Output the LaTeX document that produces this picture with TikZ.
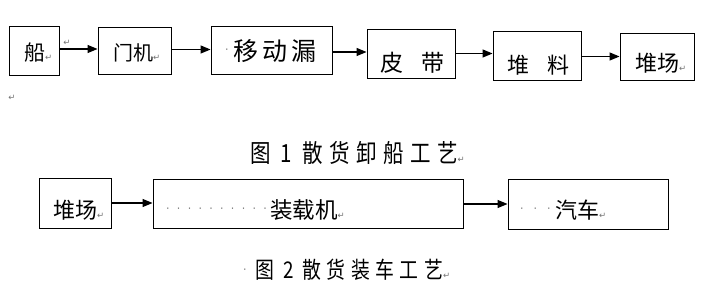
\documentclass[tikz,border=0pt]{standalone}
\usepackage{fontspec}
\setmainfont{Liberation Serif}
\newfontfamily\cjk{Noto Sans CJK SC}
\newfontfamily\capf[FakeStretch=0.82]{Noto Sans CJK SC}
\newfontfamily\djv{DejaVu Sans}
\usetikzlibrary{arrows.meta}
\newcommand\pmk{{\djv\fontsize{8.5}{8.5}\selectfont\color{black!55}↵}}
\newcommand\cdt{{\djv\fontsize{11}{11}\selectfont\color{black!55}·}}
\newcommand\cjks[1]{\cjk\fontsize{#1}{#1}\selectfont}
\begin{document}
\begin{tikzpicture}[x=1pt,y=-1pt,
  box/.style={draw, line width=0.9pt, inner sep=0pt},
  arr/.style={line width=1.2pt, -{Triangle[length=10pt,width=8pt]}},
  txt/.style={inner sep=0pt, anchor=west},
  pmark/.style={inner sep=0pt}]
\useasboundingbox (0,0) rectangle (717,304);
% row 1 boxes
\node[box, minimum width=50pt, minimum height=49pt] (ship) at (34,50.5) {};
\node[box, minimum width=73pt, minimum height=47pt] (gantry) at (134.5,50.5) {};
\node[box, minimum width=121pt, minimum height=48pt] (hopper) at (271.5,50) {};
\node[box, minimum width=88pt, minimum height=49pt] (belt) at (411,53.5) {};
\node[box, minimum width=88pt, minimum height=49pt] (stock) at (537,55.5) {};
\node[box, minimum width=74pt, minimum height=47pt] (yard) at (657,56.5) {};
% row 1 arrows
\draw[arr] (ship.east |- 0,49) -- (gantry.west |- 0,49);
\draw[arr] (gantry.east |- 0,49.5) -- (hopper.west |- 0,49.5);
\draw[arr] (hopper.east |- 0,52) -- (belt.west |- 0,52);
\draw[arr] (belt.east |- 0,53.5) -- (stock.west |- 0,53.5);
\draw[arr] (stock.east |- 0,56.5) -- (yard.west |- 0,56.5);
% row 1 texts
\node[txt] (t1) at (24,53) {\cjks{21}船\pmk};
\node[pmark] (m1) at (67,43) {\pmk};
\node[txt] (t2) at (113,53) {\cjks{20}门机\pmk};
\node[txt] (d3) at (225,51) {\cdt};
\node[txt] (t3) at (233,51) {\cjks{25}移\hspace{4pt}动\hspace{4pt}漏};
\node[txt] (t4) at (380,63) {\cjks{23}皮\hspace{18pt}带};
\node[txt] (t5) at (507,65) {\cjks{22}堆\hspace{18pt}料};
\node[txt] (t6) at (635,63) {\cjks{22}堆场\pmk};
\node[pmark] (m2) at (12,98) {\pmk};
% caption 1
\node[txt] (c1) at (250,153) {\capf\fontsize{25}{25}\selectfont 图\hspace{10pt}1\hspace{10pt}散\hspace{6.5pt}货\hspace{6.5pt}卸\hspace{6.5pt}船\hspace{6.5pt}工\hspace{6.5pt}艺\pmk};
% row 2 boxes
\node[box, minimum width=72pt, minimum height=50pt] (yard2) at (75,203) {};
\node[box, minimum width=310pt, minimum height=49pt] (loader) at (308,203.5) {};
\node[box, minimum width=160pt, minimum height=50pt] (truck) at (588,204) {};
\draw[arr] (yard2.east |- 0,203) -- (loader.west |- 0,203);
\draw[arr] (loader.east |- 0,204) -- (truck.west |- 0,204);
% row 2 texts
\node[txt] (t7) at (53,210) {\cjks{22}堆场\pmk};
\node[txt] (d8) at (166,210) {\cdt\hspace{7.3pt}\cdt\hspace{7.3pt}\cdt\hspace{7.3pt}\cdt\hspace{7.3pt}\cdt\hspace{7.3pt}\cdt\hspace{7.3pt}\cdt\hspace{7.3pt}\cdt\hspace{7.3pt}\cdt\hspace{7.3pt}\cdt};
\node[txt] (t8) at (270,210) {\cjks{22.5}装载机\pmk};
\node[txt] (d9) at (520,210) {\cdt\hspace{10pt}\cdt\hspace{10pt}\cdt};
\node[txt] (t9) at (555,210) {\cjks{22}汽车\pmk};
% caption 2
\node[txt] (d10) at (243,271) {\cdt};
\node[txt] (c2) at (255,270) {\capf\fontsize{23}{23}\selectfont 图\hspace{9pt}2\hspace{9pt}散\hspace{5.5pt}货\hspace{5.5pt}装\hspace{5.5pt}车\hspace{5.5pt}工\hspace{5.5pt}艺\pmk};
\end{tikzpicture}
\end{document}
